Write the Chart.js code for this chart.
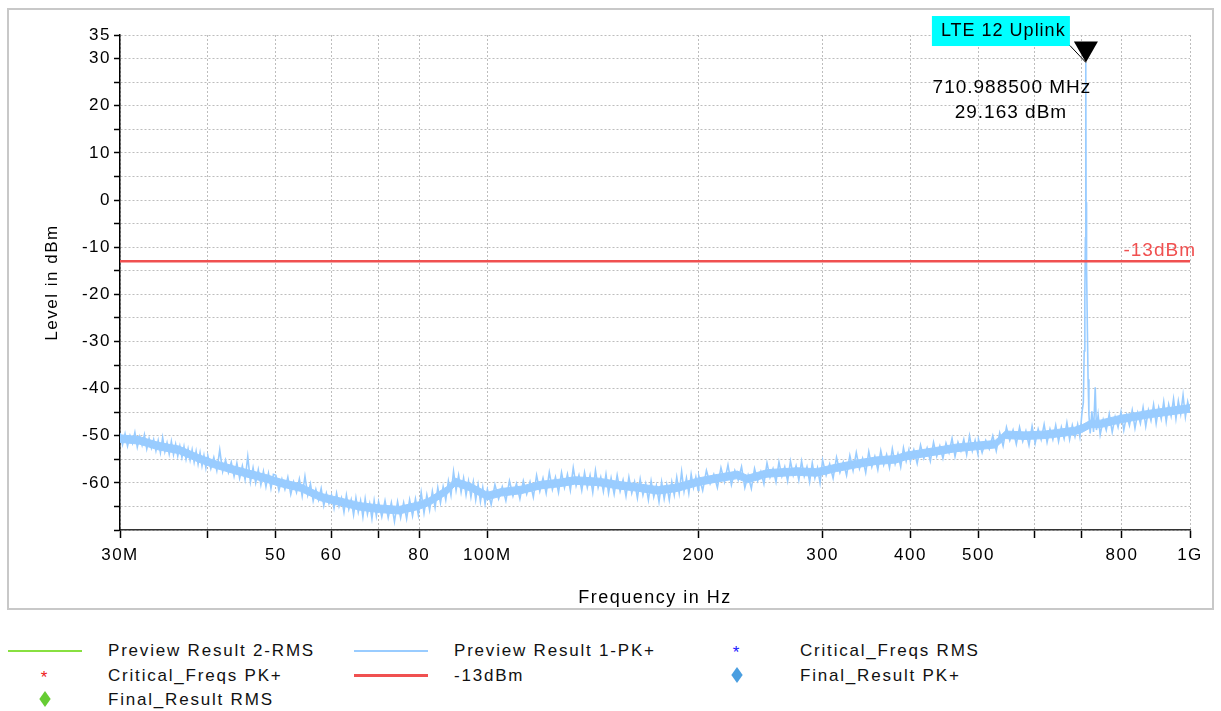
<!DOCTYPE html>
<html>
<head>
<meta charset="utf-8">
<script src="https://cdn.jsdelivr.net/npm/chart.js@4.4.1/dist/chart.umd.min.js"></script>
<style>
  html, body { margin: 0; padding: 0; background: #fff; }
  #wrap { position: relative; width: 1221px; height: 711px; overflow: hidden; }
  #legend { position: absolute; left: 0; top: 611px; width: 1221px; height: 100px; background: #fff;
            font: 17px "Liberation Sans", Arial, sans-serif; letter-spacing: 1.8px; color: #111; }
  .item { position: absolute; height: 24px; line-height: 24px; white-space: nowrap; }
  .mark { position: absolute; left: 0; top: 0; width: 74px; height: 24px; }
  .txt { position: absolute; left: 100px; top: 0; }
</style>
</head>
<body>
<div id="wrap">
  <canvas id="myChart" width="1221" height="711"></canvas>
  <div id="legend"></div>
</div>
<script>
// PK+ sweep (MHz / dBm)
const freqMHz = [
  30,30.25,30.5,30.75,31,31.25,31.5,31.75,32,32.25, 32.5,32.75,33,33.25,33.5,33.75,34,34.25,34.5,34.75,
  35,35.25,35.5,35.75,36,36.25,36.5,36.75,37,37.25, 37.5,37.75,38,38.25,38.5,38.75,39,39.25,39.5,39.75,
  40,40.4,40.8,41.2,41.6,42,42.4,42.8,43.2,43.6, 44,44.4,44.8,45.2,45.6,46,46.4,46.8,47.2,47.6, 48,48.4,48.8,49.2,49.6,
  50,50.5,51,51.5,52,52.5,53,53.5,54,54.5, 55,55.5,56,56.5,57,57.5,58,58.5,59,59.5,
  60,60.5,61,61.5,62,62.5,63,63.5,64,64.5, 65,65.5,66,66.5,67,67.5,68,68.5,69,69.5,
  70,70.75,71.5,72.25,73,73.75,74.5,75.25,76,76.75, 77.5,78.25,79,79.75,80.5,81.25,82,82.75,83.5,84.25,
  85,85.75,86.5,87.25,88,88.75,89.5,90.25,91,91.75, 92.5,93.25,94,94.75,95.5,96.25,97,97.75,98.5,99.25,
  100,101.25,102.5,103.75,105,106.25,107.5,108.75,110,111.25, 112.5,113.75,115,116.25,117.5,118.75,120,121.25,122.5,123.75,
  125,126.25,127.5,128.75,130,131.25,132.5,133.75,135,136.25, 137.5,138.75,140,141.25,142.5,143.75,145,146.25,147.5,148.75,
  150,151.5,153,154.5,156,157.5,159,160.5,162,163.5, 165,166.5,168,169.5,171,172.5,174,175.5,177,178.5,
  180,181.5,183,184.5,186,187.5,189,190.5,192,193.5, 195,196.5,198,199.5,
  200,202.5,205,207.5,210,212.5,215,217.5,220,222.5, 225,227.5,230,232.5,235,237.5,240,242.5,245,247.5,
  250,252.5,255,257.5,260,262.5,265,267.5,270,272.5, 275,277.5,280,282.5,285,287.5,290,292.5,295,297.5,
  300,303.5,307,310.5,314,317.5,321,324.5,328,331.5, 335,338.5,342,345.5,349,352.5,356,359.5,363,366.5,
  370,373.5,377,380.5,384,387.5,391,394.5,398,
  400,404.5,409,413.5,418,422.5,427,431.5,436,440.5, 445,449.5,454,458.5,463,467.5,472,476.5,481,485.5, 490,494.5,499,
  500,506,512,518,524,530,536,542,548,554, 560,566,572,578,584,590,596,602,608,614,
  620,626,632,638,644,650,656,662,668,674, 680,686,
  692,697,702,705,707,708.5,709.8,710.4,710.9885,711.4, 712,713,714.5,716,718,721,725,729,733,736, 740,
  745,752.5,760,767.5,775,782.5,790,797.5,805,812.5, 820,827.5,835,842.5,850,857.5,865,872.5,880,887.5,
  895,902.5,910,917.5,925,932.5,940,947.5,955,962.5, 970,977.5,985,992.5,1000
];
const pkLevels = [
  -49.4,-51.9,-49.6,-52.2,-50.0,-51.6,-49.3,-52.4,-50.2,-52.0, -49.8,-52.8,-50.6,-52.6,-50.8,-53.2,-51.0,-53.6,-50.4,-53.4,
  -51.5,-53.9,-51.2,-54.0,-51.8,-54.3,-52.2,-54.6,-52.3,-55.0, -52.8,-55.2,-53.0,-55.6,-53.3,-56.0,-53.6,-56.4,-54.2,-56.8,
  -54.2,-57.0,-54.6,-57.4,-53.0,-57.6,-55.2,-57.8,-55.6,-58.6, -55.8,-59.0,-56.4,-59.3,-54.4,-59.8,-56.8,-60.0,-57.2,-60.4, -57.6,-60.8,-58.0,-61.2,-58.2,
  -58.4,-61.6,-59.2,-61.4,-58.8,-62.4,-59.8,-62.0,-59.2,-62.8, -58.6,-62.6,-60.2,-63.8,-61.4,-63.6,-61.2,-64.8,-62.2,-64.4,
  -62.6,-65.4,-62.2,-65.0,-63.2,-66.2,-62.6,-65.6,-63.6,-66.8, -63.2,-66.2,-63.8,-67.2,-63.4,-66.6,-64.4,-67.6,-63.8,-67.0,
  -64.0,-67.2,-63.8,-67.4,-64.2,-68.2,-64.0,-67.4,-64.2,-67.6, -63.6,-67.0,-63.4,-66.8,-62.0,-66.4,-62.6,-65.8,-61.8,-65.2,
  -61.0,-64.2,-60.8,-63.6,-59.6,-62.6,-57.6,-61.6,-58.4,-62.0, -59.0,-62.6,-59.6,-63.0,-59.8,-63.6,-60.4,-64.0,-61.0,-64.4,
  -61.4,-64.6,-60.4,-63.4,-60.8,-63.8,-59.6,-62.8,-60.2,-63.4, -59.6,-62.4,-59.8,-63.0,-58.4,-61.8,-59.0,-62.2,-57.8,-61.4,
  -58.8,-62.0,-57.8,-61.0,-58.2,-61.6,-56.8,-60.6,-58.4,-61.6, -57.8,-61.0,-58.4,-62.0,-57.4,-61.0,-58.8,-61.8,-58.2,-62.2,
  -59.0,-62.4,-58.4,-61.8,-59.4,-62.8,-58.8,-62.2,-59.8,-63.2, -59.2,-62.6,-60.2,-63.6,-59.6,-63.0,-60.6,-64.0,-59.8,-63.4,
  -60.4,-63.6,-59.8,-62.6,-58.8,-62.2,-57.6,-61.8,-59.0,-62.2, -58.2,-61.0,-58.8,-61.6,
  -58.6,-61.6,-57.4,-60.2,-58.2,-61.0,-56.8,-59.8,-56.2,-60.4, -57.4,-59.4,-56.6,-61.0,-58.4,-61.2,-57.0,-59.6,-57.6,-60.2,
  -55.8,-58.8,-57.0,-59.8,-55.6,-58.6,-56.6,-59.6,-55.4,-58.4, -56.4,-59.4,-55.4,-58.6,-56.6,-59.8,-55.8,-59.0,-56.8,-60.0,
  -55.2,-58.4,-56.0,-59.0,-54.6,-57.8,-55.6,-58.4,-54.2,-57.4, -53.6,-57.0,-54.8,-57.8,-53.4,-56.6,-54.4,-57.2,-53.2,-56.2,
  -54.0,-56.8,-52.8,-56.0,-53.8,-56.6,-52.6,-55.4,-53.0,
  -55.4,-53.0,-55.9,-52.0,-54.8,-52.6,-55.4,-51.4,-54.4,-52.2, -54.8,-51.6,-53.6,-50.6,-54.4,-51.4,-53.2,-50.8,-54.0,-50.0, -53.2,-51.0,-53.8,
  -50.8,-53.6,-51.0,-52.8,-50.0,-53.2,-49.4,-52.2,-48.2,-51.0, -48.8,-51.8,-48.2,-51.2,-49.0,-52.0,-48.0,-51.6,-48.6,-50.8,
  -47.6,-51.4,-48.6,-50.8,-47.8,-51.2,-48.2,-50.6,-47.2,-50.8, -47.8,-50.2,
  -47.6,-50.2,-45.0,-43.0,-32.0,-20.0,-8.0,-1.0,29.163,-0.5, -3.0,-14.0,-28.0,-38.0,-45.5,-49.5,-44.8,-49.2,-39.7,-48.8, -45.6,
  -49.8,-46.6,-48.8,-45.4,-49.2,-46.0,-48.2,-45.0,-48.8,-45.6, -47.8,-44.6,-48.4,-45.2,-47.4,-44.0,-48.0,-44.6,-46.8,-43.4,
  -47.4,-44.0,-46.4,-42.8,-47.0,-43.4,-45.8,-42.2,-46.4,-42.6, -45.4,-41.4,-46.0,-42.8,-45.0
];
// the solid core of the noise band (upper / lower edge)
const bandFreqs = [
  30,32,34,36.4,38.8,40.8,44.2,48.3,50.8,54.2,57.9,61.7,65.9,70.2,74.9,80,82.6,87.8,90,94.9,
  100,104.7,111.7,118.8,126.9,133,144,153.7,164,175,186.7,199,212.6,226.9,234.3,250,275.7,294,314,335,
  357.5,381.5,394,434.6,463.8,495,528,540,546,582.6,621.7,685,702,722,745,795,875,1000
];
const bandUpper = [
  -49.8,-50.2,-51.4,-52.2,-54,-55.2,-56.7,-58.2,-59.2,-60.2,-62.2,-63.2,-64.2,-64.7,-65,-64,-63.2,-60.7,-59,-60.2,
  -62,-61.2,-60.7,-59.7,-59.2,-58.7,-59,-59.7,-60.2,-60.8,-60.2,-59,-58.2,-57.5,-58.4,-57.2,-56.8,-57,-56,-55.2,
  -54.5,-54.2,-53.5,-52.5,-51.8,-51.4,-51,-49.7,-49,-49.2,-49,-48.2,-47.7,-46.7,-46.7,-45.7,-44.6,-43.4
];
const bandLower = [
  -51.4,-51.8,-53,-53.8,-55.6,-56.8,-58.3,-59.8,-60.8,-61.8,-63.8,-64.8,-65.8,-66.3,-66.6,-65.6,-64.8,-62.3,-60.6,-61.8,
  -63.6,-62.8,-62.3,-61.3,-60.8,-60.3,-60.6,-61.3,-61.8,-62.4,-61.8,-60.6,-59.8,-59.1,-60,-58.8,-58.4,-58.6,-57.6,-56.8,
  -56.1,-55.8,-55.1,-54.1,-53.4,-53,-52.6,-51.3,-50.6,-50.8,-50.6,-49.8,-49.3,-48.3,-48.3,-47.3,-46.2,-45
];
const limitFreqs = [30, 1000];
const limitLevels = [-13, -13];

const xTickValues = [30, 40, 50, 60, 70, 80, 100, 200, 300, 400, 500, 600, 700, 800, 1000];
const xTickLabels = ['30M', '', '50', '60', '', '80', '100M', '200', '300', '400', '500', '', '', '800', '1G'];
const yLabelValues = [35, 30, 20, 10, 0, -10, -20, -30, -40, -50, -60];

const markerFreq = 710.9885;
const markerLevel = 29.163;
const markerName = 'LTE 12 Uplink';

const FONT = '"Liberation Sans", Arial, sans-serif';
const TRACE = '#99ccff';

const toPoints = (xs, ys) => xs.map((v, i) => ({ x: v, y: ys[i] }));

const datasets = [
  { label: 'Preview Result 2-RMS', data: [], borderColor: '#88e040', legendType: 'line' },
  { label: 'Preview Result 1-PK+', data: toPoints(freqMHz, pkLevels), borderColor: TRACE, borderWidth: 1.6, legendType: 'line' },
  { label: 'Critical_Freqs RMS', data: [], borderColor: '#2020ff', legendType: 'star' },
  { label: 'Critical_Freqs PK+', data: [], borderColor: '#ee2020', legendType: 'star' },
  { label: '-13dBm', data: toPoints(limitFreqs, limitLevels), borderColor: '#f05050', borderWidth: 2.4, legendType: 'line', order: -1 },
  { label: 'Final_Result PK+', data: [], borderColor: '#4a9ee0', legendType: 'diamond' },
  { label: 'Final_Result RMS', data: [], borderColor: '#66cc33', legendType: 'diamond' },
  // band core, drawn beneath the trace
  { label: 'band hi', data: toPoints(bandFreqs, bandUpper), borderColor: TRACE, backgroundColor: TRACE, borderWidth: 1, fill: '+1', order: 2 },
  { label: 'band lo', data: toPoints(bandFreqs, bandLower), borderColor: TRACE, borderWidth: 1, order: 2 },
];
datasets.forEach(d => {
  d.pointRadius = 0;
  d.tension = 0;
  if (d.fill === undefined) d.fill = false;
  if (!d.borderWidth) d.borderWidth = 1.5;
});

const framePlugin = {
  id: 'frame',
  beforeDraw(chart) {
    chart.ctx.letterSpacing = '1.5px';
  },
  afterDraw(chart) {
    const ctx = chart.ctx;
    ctx.save();
    ctx.strokeStyle = '#c8c8c8';
    ctx.lineWidth = 2;
    ctx.strokeRect(8, 9, 1205, 600);
    ctx.restore();
  }
};

const markerPlugin = {
  id: 'marker',
  afterDatasetsDraw(chart) {
    const { ctx, scales: { x, y } } = chart;
    const px = x.getPixelForValue(markerFreq);
    const py = y.getPixelForValue(markerLevel);
    ctx.save();
    ctx.letterSpacing = '1px';
    // name box
    ctx.fillStyle = '#00ffff';
    ctx.fillRect(px - 154, py - 46.5, 138, 30);
    ctx.strokeStyle = '#000';
    ctx.lineWidth = 1;
    ctx.beginPath();
    ctx.moveTo(px - 16, py - 17);
    ctx.lineTo(px, py);
    ctx.stroke();
    ctx.fillStyle = '#000';
    ctx.beginPath();
    ctx.moveTo(px - 12, py - 21);
    ctx.lineTo(px + 12, py - 21);
    ctx.lineTo(px, py);
    ctx.closePath();
    ctx.fill();
    ctx.font = '18px ' + FONT;
    ctx.textBaseline = 'middle';
    ctx.textAlign = 'left';
    ctx.fillText(markerName, px - 145, py - 31);
    ctx.textAlign = 'center';
    ctx.font = '19px ' + FONT;
    ctx.fillText(markerFreq.toFixed(6) + ' MHz', px - 74, py + 25);
    ctx.fillText(markerLevel.toFixed(3) + ' dBm', px - 75, py + 50);
    // limit label
    const ly = y.getPixelForValue(limitLevels[1]);
    ctx.fillStyle = '#f05050';
    ctx.textAlign = 'right';
    ctx.fillText('-13dBm', x.right + 6, ly - 11);
    ctx.restore();
  }
};

const config = {
  type: 'line',
  data: { datasets: datasets },
  options: {
    responsive: false,
    animation: false,
    layout: { padding: { left: 10, top: 35, right: 31, bottom: 99 } },
    plugins: { legend: { display: false }, tooltip: { enabled: false } },
    scales: {
      x: {
        type: 'logarithmic',
        min: 30,
        max: 1000,
        afterBuildTicks: (scale) => { scale.ticks = xTickValues.map(v => ({ value: v })); },
        afterFit: (scale) => { scale.height = 82; },
        ticks: {
          autoSkip: false, maxRotation: 0, padding: 7, color: '#000',
          font: { family: FONT, size: 17 },
          callback: (v, i) => xTickLabels[i]
        },
        grid: { color: '#bdbdbd', lineWidth: 1, tickLength: 8, tickColor: '#000', tickWidth: 1.5, tickBorderDash: [] },
        border: { color: '#333', width: 1.5, dash: [2, 2] },
        title: { display: true, text: 'Frequency in Hz', color: '#000', font: { family: FONT, size: 18 }, padding: { top: 0, bottom: 3 } }
      },
      y: {
        min: -70,
        max: 35,
        afterFit: (scale) => { scale.width = 110; },
        ticks: {
          stepSize: 5, autoSkip: false, padding: 3, color: '#000',
          font: { family: FONT, size: 17 },
          callback: (v) => yLabelValues.includes(v) ? String(v) : ''
        },
        grid: { color: '#bdbdbd', lineWidth: 1, tickLength: 6, tickColor: '#000', tickWidth: 1.5, tickBorderDash: [] },
        border: { color: '#000', width: 1.5, dash: [2, 2] },
        title: { display: true, text: 'Level in dBm', color: '#000', font: { family: FONT, size: 17 }, padding: { top: 32, bottom: 0 } }
      }
    }
  },
  plugins: [framePlugin, markerPlugin]
};

const myChart = new Chart('myChart', config);

// legend below the frame, three columns like the original
const legendDiv = document.getElementById('legend');
myChart.data.datasets.filter(ds => ds.legendType).forEach((ds, i) => {
  const col = i % 3, row = Math.floor(i / 3);
  const item = document.createElement('div');
  item.className = 'item';
  item.style.left = (8 + col * 346) + 'px';
  item.style.top = (28 + row * 24.5) + 'px';
  const mark = document.createElement('div');
  mark.className = 'mark';
  if (ds.legendType === 'line') {
    mark.innerHTML = `<div style="position:absolute;left:0;width:74px;top:${12 - ds.borderWidth / 2}px;height:${ds.borderWidth}px;background:${ds.borderColor}"></div>`;
  } else if (ds.legendType === 'star') {
    mark.innerHTML = `<div style="position:absolute;left:29px;top:2px;width:16px;text-align:center;color:${ds.borderColor};font:bold 21px ${FONT};letter-spacing:0">*</div>`;
  } else {
    mark.innerHTML = `<div style="position:absolute;left:33px;top:7px;width:8px;height:8px;background:${ds.borderColor};transform:scaleY(1.4) rotate(45deg)"></div>`;
  }
  const txt = document.createElement('div');
  txt.className = 'txt';
  txt.textContent = ds.label;
  item.appendChild(mark);
  item.appendChild(txt);
  legendDiv.appendChild(item);
});
</script>
</body>
</html>
